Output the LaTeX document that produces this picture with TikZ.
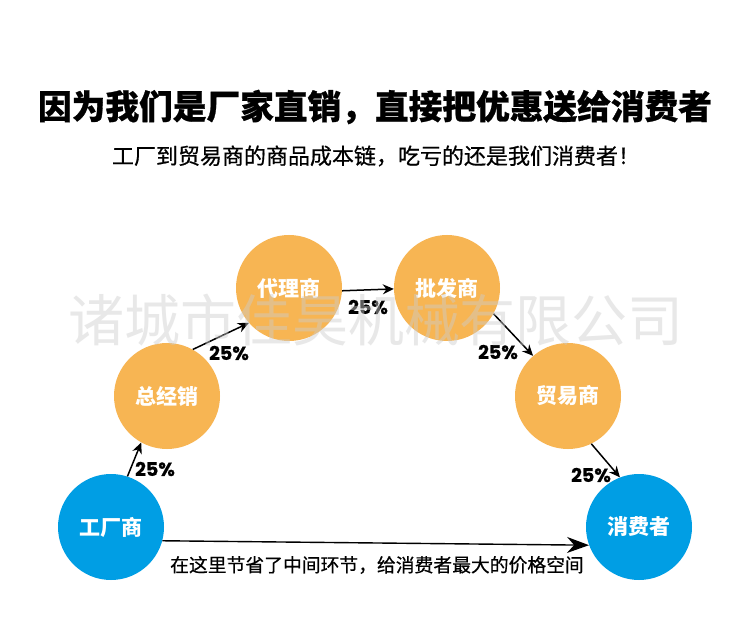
\documentclass[tikz,border=0pt]{standalone}
\usepackage{fontspec}
\usetikzlibrary{arrows.meta}
\newfontfamily\cjk{Noto Sans CJK SC}
\newfontfamily\cjkheavy{Noto Sans CJK SC}[BoldFeatures={FakeBold=0.8}]
\newfontfamily\cjkmed{Noto Sans CJK SC}[UprightFeatures={FakeBold=0.6}]
\newfontfamily\pop{Poppins}[BoldFeatures={FakeBold=0.6}]
\definecolor{corange}{RGB}{247,181,83}
\definecolor{cblue}{RGB}{0,158,228}
\begin{document}
\begin{tikzpicture}[x=1pt,y=-1pt,
  circ/.style={circle, minimum size=106pt, inner sep=0pt, text=white, font=\cjk\bfseries\fontsize{21}{21}\selectfont},
  orangec/.style={circ, fill=corange},
  bluec/.style={circ, fill=cblue},
  arr/.style={-{Stealth[length=11pt,width=10pt]}, line width=1.5pt},
  bigarr/.style={-{Stealth[length=22pt,width=16pt]}, line width=1.4pt},
  pct/.style={font=\pop\bfseries\fontsize{19}{19}\selectfont, inner sep=0pt},
  title/.style={font=\cjkheavy\bfseries\fontsize{33.7}{33.7}\selectfont, inner sep=0pt},
  sub/.style={font=\cjkmed\fontsize{22}{22}\selectfont, inner sep=0pt},
  note/.style={font=\cjkmed\fontsize{18.8}{18.8}\selectfont, inner sep=0pt},
  wmark/.style={font=\cjk\fontsize{56}{56}\selectfont, text=black!20, text opacity=0.45, inner sep=0pt}]
\useasboundingbox (0,0) rectangle (750,620);
\fill[white] (0,0) rectangle (750,620);

\node[title] (t1) at (375,107) {因为我们是厂家直销，直接把优惠送给消费者};
\node[sub] (t2) at (376,156) {工厂到贸易商的商品成本链，吃亏的还是我们消费者！};

\node[bluec] (gc) at (111,527) {工厂商};
\node[orangec] (zj) at (167,396) {总经销};
\node[orangec] (dl) at (289,288) {代理商};
\node[orangec] (pf) at (447,288) {批发商};
\node[orangec] (my) at (568,396) {贸易商};
\node[bluec] (xf) at (639,527) {消费者};

\draw[arr] (gc.72) -- (zj.241);
\draw[arr] (zj.61) -- (dl.221);
\draw[arr] (dl.-3) -- (pf.181);
\draw[arr] (pf.-29) -- (my.131);
\draw[arr] (my.-64) -- (xf.111);
\draw[bigarr] (gc.-15.5) -- (xf.200);

\node[pct] (p1) at (155,469) {25\%};
\node[pct] (p2) at (229,353) {25\%};
\node[pct] (p3) at (368,307) {25\%};
\node[pct] (p4) at (498,352) {25\%};
\node[pct] (p5) at (591,475) {25\%};

\node[note] (n1) at (377,565) {在这里节省了中间环节，给消费者最大的价格空间};

\node[wmark] (wm) at (376,320) {诸城市佳昊机械有限公司};
\end{tikzpicture}
\end{document}
